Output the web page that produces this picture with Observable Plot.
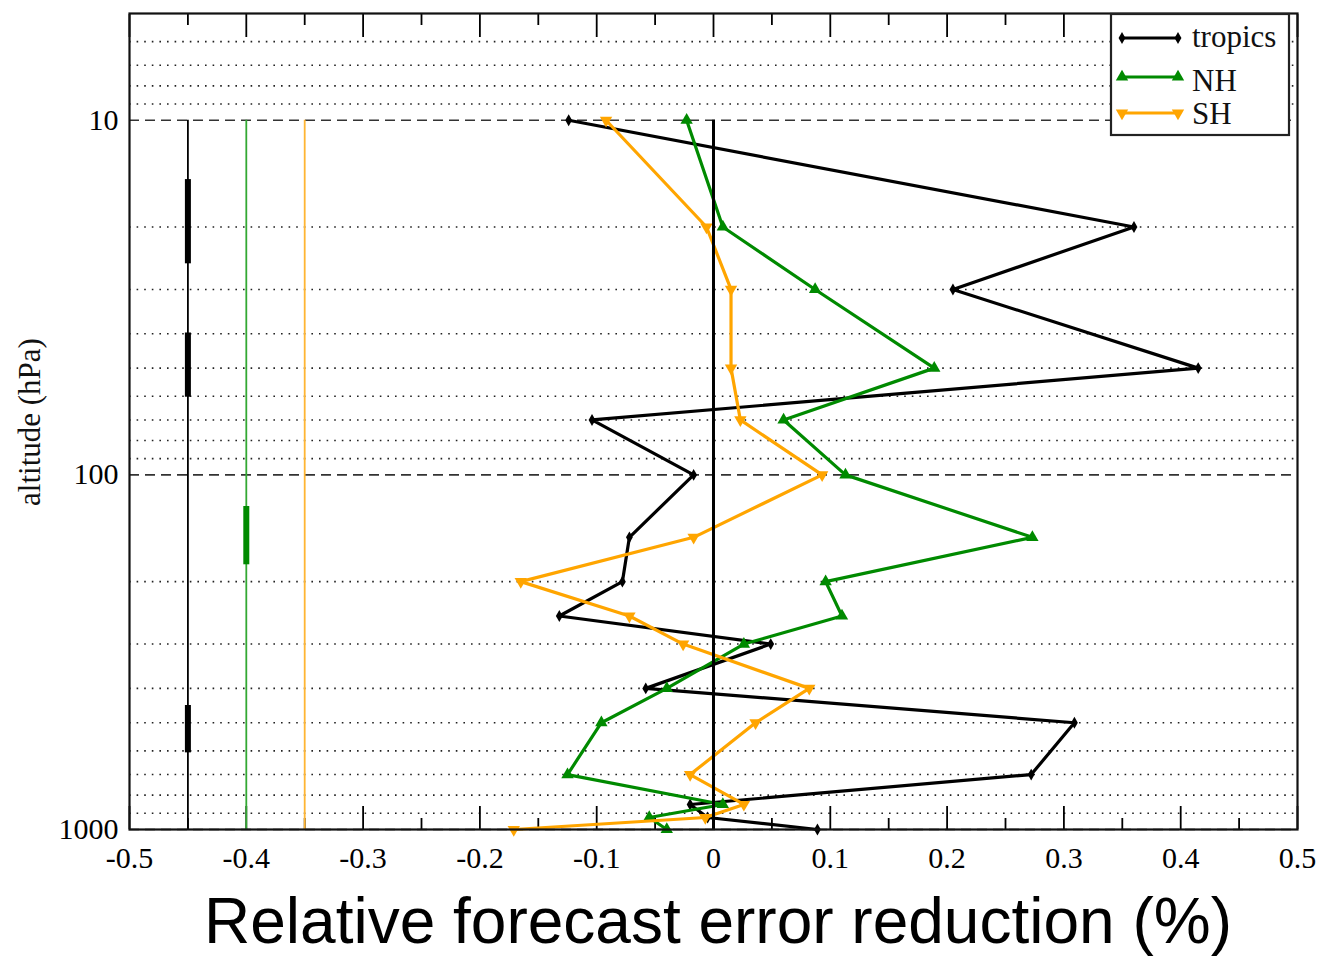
<!DOCTYPE html>
<html><head><meta charset="utf-8">
<script src="https://cdn.jsdelivr.net/npm/d3@7"></script>
<script src="https://cdn.jsdelivr.net/npm/@observablehq/plot@0.6"></script>
<style>
html,body{margin:0;padding:0;background:#fff;}
#wrap{position:relative;width:1321px;height:956px;overflow:hidden;background:#fff;}
#chart{position:absolute;left:0;top:0;}
#legend{position:absolute;left:1110px;top:13px;}
#ylabel{position:absolute;left:29px;top:422px;transform:translate(-50%,-50%) rotate(-90deg);font-family:"Liberation Serif","Times New Roman",serif;font-size:31px;line-height:31px;white-space:nowrap;color:#111;}
#caption{position:absolute;left:204px;top:889px;font-family:"Liberation Sans",Arial,sans-serif;font-size:64px;line-height:64px;white-space:nowrap;color:#000;}
</style></head><body>
<div id="wrap"><div id="chart"></div><div id="legend"></div><div id="ylabel">altitude (hPa)</div><div id="caption">Relative forecast error reduction (%)</div></div>
<script>
// ---- data ----
const levels = [10, 20, 30, 50, 70, 100, 150, 200, 250, 300, 400, 500, 700, 850, 925, 1000];
const tropics = [-0.124, 0.360, 0.205, 0.415, -0.104, -0.017, -0.072, -0.078, -0.132, 0.049, -0.058, 0.309, 0.272, -0.020, -0.005, 0.089];
const nh      = [-0.023, 0.008, 0.087, 0.189, 0.060, 0.113, 0.273, 0.096, 0.110, 0.026, -0.040, -0.096, -0.125, 0.008, -0.055, -0.040];
const sh      = [-0.092, -0.006, 0.015, 0.015, 0.023, 0.093, -0.017, -0.165, -0.072, -0.026, 0.082, 0.036, -0.020, 0.026, -0.007, -0.171];
const seriesNames = ["tropics", "NH", "SH"];
const seriesValues = [tropics, nh, sh];
const sigX = [-0.45, -0.40, -0.35];
const sigTropics = [[14.7, 25.4], [39.8, 60.4], [447, 608]];
const sigNH = [[122.8, 179.3]];
const sigSH = [];
const sigRanges = [sigTropics, sigNH, sigSH];
const xTicks = [-0.5, -0.4, -0.3, -0.2, -0.1, 0, 0.1, 0.2, 0.3, 0.4, 0.5];
const xTickLabels = ["-0.5", "-0.4", "-0.3", "-0.2", "-0.1", "0", "0.1", "0.2", "0.3", "0.4", "0.5"];
const xMinorTicks = [-0.45, -0.35, -0.25, -0.15, -0.05, 0.05, 0.15, 0.25, 0.35, 0.45];
const yTicks = [10, 100, 1000];
const yTickLabels = ["10", "100", "1000"];
const gridMajor = [10, 100, 1000];
const gridMinor = [6, 7, 8, 9, 20, 30, 40, 50, 60, 70, 80, 90, 200, 300, 400, 500, 600, 700, 800, 900];

// ---- styles ----
const serif = '"Liberation Serif","Times New Roman",Times,serif';
const lineColors = ["#000000", "#008a00", "#ffa500"];
const sigColors = ["#000000", "#33a833", "#ffb533"];
const sigThick = ["#000000", "#008a00", "#ffa500"];
const triangleDown = {
  draw(ctx, size) {
    const y = -Math.sqrt(size / (Math.sqrt(3) * 3));
    ctx.moveTo(0, -y * 2);
    ctx.lineTo(-Math.sqrt(3) * y, y);
    ctx.lineTo(Math.sqrt(3) * y, y);
    ctx.closePath();
  }
};
const symbols = [d3.symbolDiamond, d3.symbolTriangle, triangleDown];
const symbolR = [3.6, 4.6, 4.6];

const xLab = new Map(xTicks.map((t, i) => [t, xTickLabels[i]]));
const yLab = new Map(yTicks.map((t, i) => [t, yTickLabels[i]]));

const seriesMarks = [];
seriesNames.forEach((name, k) => {
  const rows = levels.map((p, i) => ({p, v: seriesValues[k][i]}));
  seriesMarks.push(Plot.line(rows, {x: "v", y: "p", stroke: lineColors[k], strokeWidth: 3.2, curve: "linear"}));
  seriesMarks.push(Plot.dot(rows, {x: "v", y: "p", symbol: symbols[k], r: symbolR[k], fill: lineColors[k], stroke: "none"}));
});

const sigLineMarks = [];
sigX.forEach((x, k) => {
  sigLineMarks.push(Plot.ruleX([x], {y1: 10, y2: 1000, stroke: sigColors[k], strokeWidth: 1.8}));
  const segs = sigRanges[k].map(([a, b]) => ({x, a, b}));
  sigLineMarks.push(Plot.ruleX(segs, {x: "x", y1: "a", y2: "b", stroke: sigThick[k], strokeWidth: 6}));
});

const blank = () => "";
const chart = Plot.plot({
  width: 1321, height: 880,
  marginLeft: 129, marginRight: 24, marginTop: 13, marginBottom: 51,
  style: {fontFamily: serif, fontSize: "30px", background: "transparent", color: "#000", overflow: "visible"},
  x: {domain: [-0.5, 0.5], label: null},
  y: {type: "log", domain: [1000, 5], label: null},
  marks: [
    Plot.ruleY(gridMinor, {stroke: "#222", strokeWidth: 1.6, strokeDasharray: "1.6,6"}),
    Plot.ruleY(gridMajor, {stroke: "#333", strokeWidth: 1.7, strokeDasharray: "10,6"}),
    Plot.axisX(xTicks, {anchor: "bottom", tickSize: 0, tickPadding: 17, tickFormat: d => xLab.get(d), fontSize: 30, label: null}),
    Plot.axisX(xTicks, {anchor: "bottom", tickSize: -23, tickFormat: blank, label: null, strokeWidth: 1.8}),
    Plot.axisX(xMinorTicks, {anchor: "bottom", tickSize: -11, tickFormat: blank, label: null, strokeWidth: 1.8}),
    Plot.axisX(xTicks, {anchor: "top", tickSize: -23, tickFormat: blank, label: null, strokeWidth: 1.8}),
    Plot.axisX(xMinorTicks, {anchor: "top", tickSize: -11, tickFormat: blank, label: null, strokeWidth: 1.8}),
    Plot.axisY(yTicks, {anchor: "left", tickSize: 0, tickPadding: 11, tickFormat: d => yLab.get(d), fontSize: 30, label: null}),
    ...sigLineMarks,
    ...seriesMarks,
    Plot.ruleX([0], {y1: 10, y2: 1000, stroke: "#000", strokeWidth: 3}),
    Plot.frame({stroke: "#111", strokeWidth: 2.2})
  ]
});
document.getElementById("chart").appendChild(chart);

// ---- legend ----
const lw = 179, lh = 122;
const lg = d3.select("#legend").append("svg").attr("width", lw + 2).attr("height", lh + 2)
  .style("font-family", serif).style("overflow", "visible");
lg.append("rect").attr("x", 1).attr("y", 1).attr("width", lw - 1).attr("height", lh - 1)
  .attr("fill", "#fff").attr("stroke", "#222").attr("stroke-width", 2.2);
const rowY = [25, 64, 100];
const baseY = [34, 78, 111];
seriesNames.forEach((name, k) => {
  const g = lg.append("g");
  g.append("line").attr("x1", 12).attr("x2", 68).attr("y1", rowY[k]).attr("y2", rowY[k])
    .attr("stroke", lineColors[k]).attr("stroke-width", 3.2);
  const sym = d3.symbol().type(symbols[k]).size(Math.PI * symbolR[k] * symbolR[k]);
  [12, 68].forEach(x => g.append("path").attr("d", sym()).attr("transform", `translate(${x},${rowY[k]})`).attr("fill", lineColors[k]));
  g.append("text").attr("x", 82).attr("y", baseY[k]).attr("font-size", 31).attr("fill", "#111").text(name);
});
</script>
</body></html>
